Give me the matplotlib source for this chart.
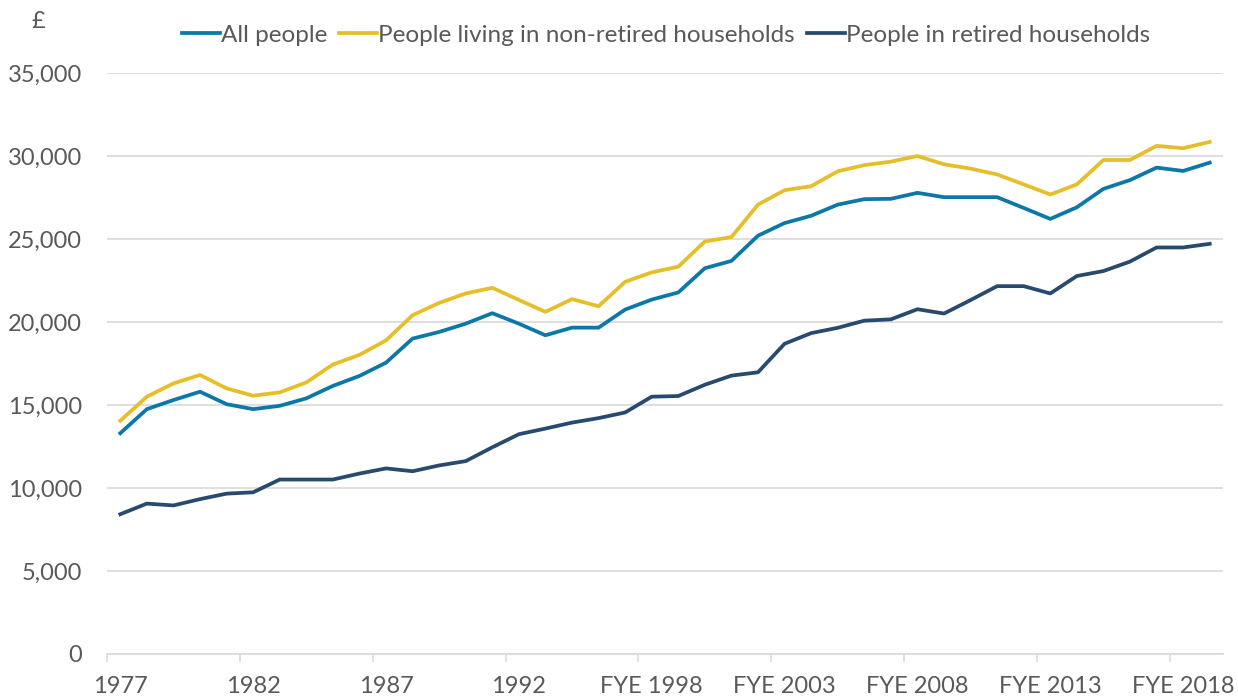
import matplotlib
matplotlib.use("Agg")
import matplotlib.pyplot as plt
from matplotlib.ticker import FixedLocator, FuncFormatter

plt.rcParams["font.family"] = ["Lato", "DejaVu Sans"]

# categories: calendar years 1977-1993, then financial years ending 1995-2019
years = [str(y) for y in range(1977, 1994)] + [f"FYE {y}" for y in range(1995, 2020)]

all_people = [
    13300, 14750, 15300, 15800, 15050, 14750, 14950, 15400, 16150, 16750,
    17550, 19000, 19400, 19900, 20530, 19900, 19200, 19660, 19660, 20750,
    21350, 21780, 23240, 23680, 25200, 25960, 26400, 27070, 27400, 27420,
    27780, 27520, 27520, 27520, 26870, 26210, 26910, 28020, 28550, 29300,
    29100, 29600,
]
non_retired = [
    14050, 15500, 16300, 16810, 16000, 15560, 15760, 16360, 17440, 18020,
    18890, 20410, 21150, 21720, 22060, 21330, 20610, 21380, 20950, 22420,
    22990, 23330, 24850, 25120, 27070, 27940, 28180, 29080, 29450, 29660,
    30000, 29500, 29240, 28890, 28290, 27680, 28290, 29760, 29760, 30610,
    30470, 30850,
]
retired = [
    8420, 9060, 8950, 9330, 9660, 9740, 10510, 10510, 10510, 10870,
    11180, 11010, 11360, 11620, 12450, 13240, 13580, 13940, 14210, 14550,
    15500, 15540, 16220, 16770, 16970, 18690, 19330, 19650, 20080, 20160,
    20770, 20510, 21320, 22160, 22160, 21720, 22770, 23070, 23640, 24490,
    24490, 24710,
]

series = [
    ("All people", all_people, "#0B78A8"),
    ("People living in non-retired households", non_retired, "#E6BE2A"),
    ("People in retired households", retired, "#284A6E"),
]

text_col = "#595959"
grid_col = "#D9D9D9"

fig = plt.figure(figsize=(12.38, 7.0), dpi=100)
ax = fig.add_axes([107 / 1238, 46 / 700, 1116 / 1238, 581 / 700])

x = list(range(len(years)))
for label, vals, col in series:
    ax.plot(x, vals, color=col, lw=2.7, label=label, solid_joinstyle="round")

ax.set_xlim(-0.5, len(years) - 0.5)
ax.set_ylim(0, 35000)

ax.set_yticks(range(0, 35001, 5000))
ax.yaxis.set_major_formatter(FuncFormatter(lambda v, p: f"{int(v):,}"))
ax.grid(axis="y", color=grid_col, lw=1.2)
ax.set_axisbelow(True)

label_idx = list(range(0, len(years), 5))
ax.set_xticks(label_idx)
ax.set_xticklabels([years[i] for i in label_idx])
ax.xaxis.set_minor_locator(FixedLocator([i - 0.5 for i in label_idx]))
ax.tick_params(axis="x", which="major", length=0, pad=16, labelsize=17, labelcolor=text_col)
ax.tick_params(axis="x", which="minor", length=6, width=1.2, color=grid_col)
ax.tick_params(axis="y", length=0, pad=18, labelsize=17, labelcolor=text_col)

for side in ["top", "right", "left"]:
    ax.spines[side].set_visible(False)
ax.spines["bottom"].set_color(grid_col)
ax.spines["bottom"].set_linewidth(1.2)

fig.text(38 / 1238, 1 - 21 / 700, "£", ha="center", va="center", fontsize=17, color=text_col)

fig.legend(loc="center", bbox_to_anchor=(666 / 1238, 1 - 35 / 700), ncol=3, frameon=False,
           fontsize=17.5, handlelength=1.55, handletextpad=0.05, columnspacing=0.5,
           labelcolor=text_col)

fig.savefig("out.png", dpi=100)
